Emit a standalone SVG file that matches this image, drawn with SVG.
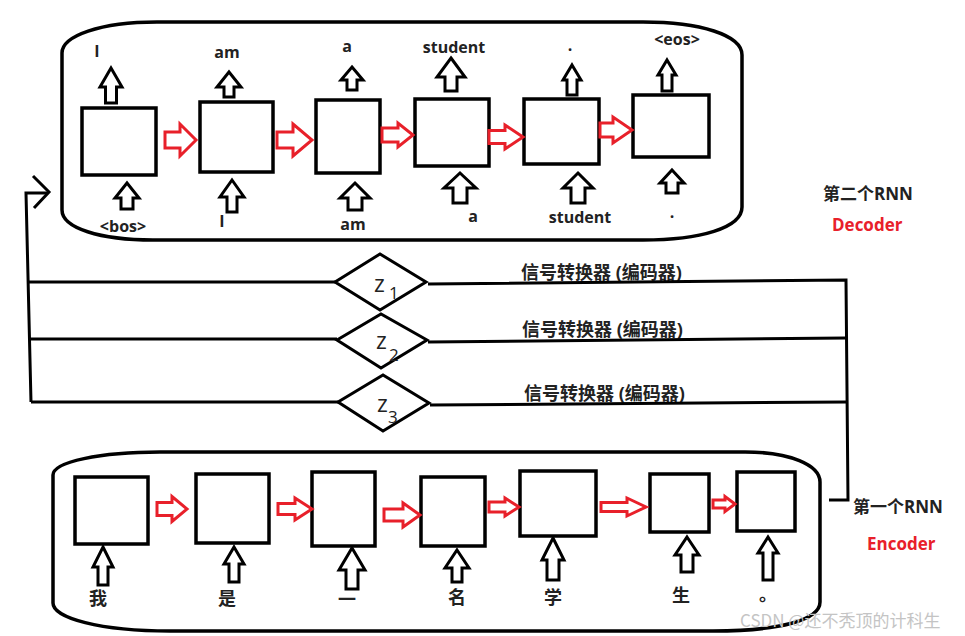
<svg xmlns="http://www.w3.org/2000/svg" width="965" height="636" viewBox="0 0 965 636">
<style>
.outline{fill:none;stroke:#000;stroke-width:3.5}
.box{fill:#fff;stroke:#000;stroke-width:3.5}
.ra{fill:#fff;stroke:#e8202a;stroke-width:3}
.ua{fill:#fff;stroke:#000;stroke-width:3}
.ln{fill:none;stroke:#000;stroke-width:3}
.dia{fill:#fff;stroke:#000;stroke-width:3}
.lbl{font-family:"Open Sans","Noto Sans CJK SC",sans-serif;font-weight:bold;font-size:16px;fill:#222;text-anchor:middle}
.cjk{font-family:"Noto Sans CJK SC",sans-serif;font-weight:bold;font-size:18px;fill:#222;text-anchor:middle}
.side{font-family:"Open Sans","Noto Sans CJK SC",sans-serif;font-weight:bold;font-size:17px;fill:#222}
.conv{font-family:"Open Sans","Noto Sans CJK SC",sans-serif;font-weight:bold;font-size:18px;fill:#222}
.red{fill:#e8202a}
.z{font-family:"Open Sans",sans-serif;font-size:23px;fill:#222}
.sub{font-family:"Open Sans",sans-serif;font-size:17px;fill:#222}
.wm{font-family:"Noto Sans CJK SC",sans-serif;font-size:17px;fill:#c4c4c4}
</style>
<rect width="965" height="636" fill="#fff"/>

<g id="decoder">
<path class="outline" d="M157,22 L643,22 C700,22 742,35 742,55 L742,207 C742,228 700,240 643,240 L153,240 C100,240 62,228 62,210 L62,53 C62,36 100,22 157,22 Z"/>
<rect class="box" x="82" y="108" width="74" height="67"/>
<rect class="box" x="200" y="102" width="73" height="70"/>
<rect class="box" x="316" y="100" width="64" height="73"/>
<rect class="box" x="415" y="99" width="74" height="67"/>
<rect class="box" x="524" y="99" width="75" height="65"/>
<rect class="box" x="633" y="95" width="76" height="62"/>
<polygon class="ua" points="111,68 122,87 116.5,87 116.5,103 105.5,103 105.5,87 100,87"/>
<polygon class="ua" points="229,72 241,87 234,87 234,97 224,97 224,87 217,87"/>
<polygon class="ua" points="352,67 363,80 357,80 357,90 347,90 347,80 341,80"/>
<polygon class="ua" points="451,58 465,77 457,77 457,91 445,91 445,77 437,77"/>
<polygon class="ua" points="572,65 581,80 577,80 577,95 567,95 567,80 563,80"/>
<polygon class="ua" points="667,60 676,75 672,75 672,91 662,91 662,75 658,75"/>
<polygon class="ua" points="127,183 139,198 133,198 133,209 121,209 121,198 115,198"/>
<polygon class="ua" points="232,180 244,197 237,197 237,212 227,212 227,197 220,197"/>
<polygon class="ua" points="355,183 370,198 362,198 362,210 348,210 348,198 340,198"/>
<polygon class="ua" points="460,173 476,188 467,188 467,203 453,203 453,188 444,188"/>
<polygon class="ua" points="578,173 593,188 585,188 585,203 571,203 571,188 563,188"/>
<polygon class="ua" points="672,170 684,183 678,183 678,193 666,193 666,183 660,183"/>
<text class="lbl" x="97" y="57">I</text>
<text class="lbl" x="227" y="58">am</text>
<text class="lbl" x="347" y="52">a</text>
<text class="lbl" x="454" y="53">student</text>
<text class="lbl" x="570" y="51">.</text>
<text class="lbl" x="677" y="45">&lt;eos&gt;</text>
<text class="lbl" x="123" y="232">&lt;bos&gt;</text>
<text class="lbl" x="222" y="227">I</text>
<text class="lbl" x="353" y="230">am</text>
<text class="lbl" x="473" y="222">a</text>
<text class="lbl" x="580" y="223">student</text>
<text class="lbl" x="672" y="218">.</text>
<text class="side" x="823" y="200">第二个RNN</text>
<text class="side red" x="832" y="231">Decoder</text>
</g>

<g id="encoder">
<path class="outline" d="M160,452 L745,452 C790,452 820,465 820,482 L820,602 C820,620 780,631 713,631 L170,631 C100,631 53,618 53,603 L53,475 C53,462 100,452 160,452 Z"/>
<rect class="box" x="75" y="477" width="73" height="67"/>
<rect class="box" x="196" y="474" width="73" height="69"/>
<rect class="box" x="312" y="472" width="63" height="74"/>
<rect class="box" x="421" y="477" width="64" height="69"/>
<rect class="box" x="520" y="471" width="76" height="65"/>
<rect class="box" x="650" y="474" width="59" height="58"/>
<rect class="box" x="737" y="472" width="58" height="59"/>
<polygon class="ua" points="103,547 113,567 108,567 108,585 98,585 98,567 93,567"/>
<polygon class="ua" points="234,547 244,564 239,564 239,582 229,582 229,564 224,564"/>
<polygon class="ua" points="352,548 365,570 358,570 358,589 346,589 346,570 339,570"/>
<polygon class="ua" points="457,550 469,568 462,568 462,582 452,582 452,568 445,568"/>
<polygon class="ua" points="553,538 564,560 559,560 559,580 547,580 547,560 542,560"/>
<polygon class="ua" points="687,537 699,555 693,555 693,572 681,572 681,555 675,555"/>
<polygon class="ua" points="768,537 778,553 773,553 773,580 763,580 763,553 758,553"/>
<text class="cjk" x="98" y="605">我</text>
<text class="cjk" x="227" y="605">是</text>
<text class="cjk" x="347" y="606">一</text>
<text class="cjk" x="457" y="604">名</text>
<text class="cjk" x="553" y="604">学</text>
<text class="cjk" x="681" y="602">生</text>
<text class="cjk" x="759" y="601" style="text-anchor:start">。</text>
<text class="side" x="853" y="513">第一个RNN</text>
<text class="side red" x="867" y="550">Encoder</text>
</g>

<g id="z1">
<polygon class="dia" points="335,282 380,254 426,282 380,310"/>
<text class="z" x="374" y="292">z</text>
<text class="sub" x="389" y="299">1</text>
<text class="conv" x="521" y="279">信号转换器 (编码器)</text>
</g>
<g id="z2">
<polygon class="dia" points="337,340 381,314 427,340 381,368"/>
<text class="z" x="376" y="349">z</text>
<text class="sub" x="389" y="361">2</text>
<text class="conv" x="522" y="336">信号转换器 (编码器)</text>
</g>
<g id="z3">
<polygon class="dia" points="338,402 383,375 429,403 383,431"/>
<text class="z" x="377" y="412">z</text>
<text class="sub" x="388" y="423">3</text>
<text class="conv" x="524" y="400">信号转换器 (编码器)</text>
</g>

<g id="connectors">
<polygon class="ra" points="165,132 180,132 180,124 196,140 180,156 180,148 165,148"/>
<polygon class="ra" points="277,132 293,132 293,124 312,140 293,156 293,148 277,148"/>
<polygon class="ra" points="382,128 398,128 398,123 413,135 398,147 398,142 382,142"/>
<polygon class="ra" points="489,130.5 505,130.5 505,125 523,137 505,149 505,143.5 489,143.5"/>
<polygon class="ra" points="600,123 613,123 613,117 632,130 613,143 613,137 600,137"/>
<polygon class="ra" points="157,502.5 172,502.5 172,496.5 187,509 172,521.5 172,515.5 157,515.5"/>
<polygon class="ra" points="278,503.5 295,503.5 295,498 312,509 295,520 295,514.5 278,514.5"/>
<polygon class="ra" points="384,509 403,509 403,503 420,515 403,527 403,521 384,521"/>
<polygon class="ra" points="489,502 505,502 505,498 519,507 505,516 505,512 489,512"/>
<polygon class="ra" points="601,502.5 627,502.5 627,498 646,507 627,516 627,511.5 601,511.5"/>
<polygon class="ra" points="713,500 725,500 725,496.5 735,504 725,511.5 725,508 713,508"/>
<polyline class="ln" points="829,500 848,500 846,280 428,284"/>
<line class="ln" x1="428" y1="342" x2="846" y2="338"/>
<line class="ln" x1="430" y1="405" x2="847" y2="402"/>
<line class="ln" x1="27" y1="282" x2="335" y2="282"/>
<line class="ln" x1="29" y1="339" x2="337" y2="339"/>
<line class="ln" x1="31" y1="402" x2="338" y2="402"/>
<polyline class="ln" points="31,402 26,193 48,193"/>
<polyline class="ln" points="33,176 49,192 34,208"/>
</g>

<text class="wm" x="740" y="627">CSDN @还不秃顶的计科生</text>
</svg>
